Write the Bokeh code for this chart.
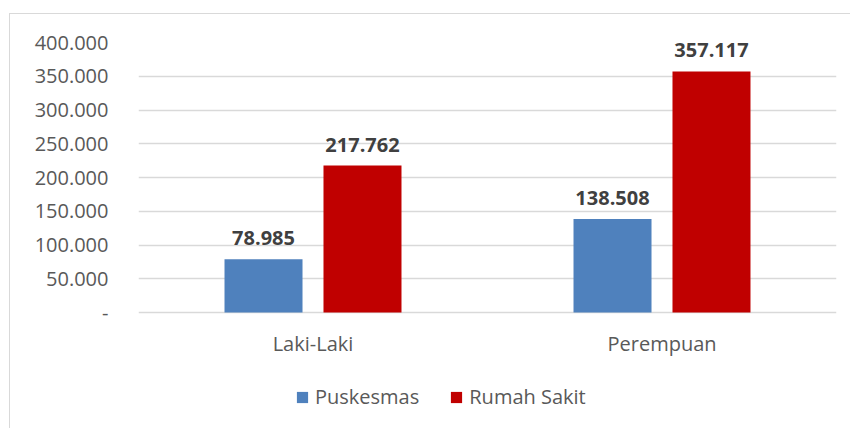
from bokeh.plotting import figure
from bokeh.models import ColumnDataSource, FactorRange, FixedTicker, LabelSet, Legend, LegendItem
from bokeh.core.properties import value
from bokeh.transform import dodge
from bokeh.embed import file_html
from bokeh.resources import INLINE

categories = ["Laki-Laki", "Perempuan"]
series = ["Puskesmas", "Rumah Sakit"]
puskesmas = [78985, 138508]
rumah_sakit = [217762, 357117]
tick_values = [0, 50000, 100000, 150000, 200000, 250000, 300000, 350000, 400000]
tick_labels = ["-", "50.000", "100.000", "150.000", "200.000", "250.000", "300.000", "350.000", "400.000"]
colors = ["#4F81BD", "#C00000"]

def fmt(v):
    return f"{v:,}".replace(",", ".")

src = ColumnDataSource(dict(
    cat=categories,
    pk=puskesmas,
    rs=rumah_sakit,
    pk_lbl=[fmt(v) for v in puskesmas],
    rs_lbl=[fmt(v) for v in rumah_sakit],
    zero=[0] * len(categories),
))

FONT = "Open Sans"
TXT = "#595959"

# layout in pixels: value axis spans 270 px from 400.000 down to 0,
# the frame continues 116 px below zero to hold category labels and legend
Y_MAX = tick_values[-1]
y_start = -Y_MAX * 116 / 270

p = figure(x_range=FactorRange(*categories, range_padding=0), y_range=(y_start, Y_MAX),
           width=850, height=428, output_backend="svg", toolbar_location=None,
           min_border_left=138, min_border_right=14, min_border_top=42, min_border_bottom=0,
           x_axis_location=None)
p.outline_line_color = None
p.background_fill_color = "white"
p.border_fill_alpha = 0
p.styles = {
    "background": "linear-gradient(#d9d9d9,#d9d9d9) 9px 13px / 1px 100% no-repeat, "
                  "linear-gradient(#d9d9d9,#d9d9d9) 9px 13px / 100% 1px no-repeat, white",
}

bw = 0.2235
off = 0.1418
r1 = p.vbar(x=dodge("cat", -off, range=p.x_range), top="pk", width=bw, source=src,
            fill_color=colors[0], line_color=None)
r2 = p.vbar(x=dodge("cat", off, range=p.x_range), top="rs", width=bw, source=src,
            fill_color=colors[1], line_color=None)

for col, lbl, o in (("pk", "pk_lbl", -off), ("rs", "rs_lbl", off)):
    p.add_layout(LabelSet(x=dodge("cat", o, range=p.x_range), y=col, text=lbl, source=src,
                          text_align="center", text_baseline="bottom", y_offset=14,
                          text_font=value(FONT), text_font_style="bold", text_font_size="20px",
                          text_color="#404040"))

# category labels under the zero line
p.add_layout(LabelSet(x="cat", y="zero", text="cat", source=src,
                      text_align="center", text_baseline="middle", y_offset=-31,
                      text_font=value(FONT), text_font_size="20px", text_color=TXT))

p.xgrid.grid_line_color = None
p.ygrid.grid_line_color = "#d9d9d9"
p.ygrid.grid_line_width = 1.5
p.yaxis.ticker = FixedTicker(ticks=tick_values)
p.yaxis.major_label_overrides = {v: l for v, l in zip(tick_values, tick_labels)}
p.yaxis.axis_line_color = None
p.yaxis.major_tick_line_color = None
p.yaxis.minor_tick_line_color = None
p.yaxis.major_label_text_font = FONT
p.yaxis.major_label_text_font_size = "20px"
p.yaxis.major_label_text_color = TXT
p.yaxis.major_label_standoff = 24

legend = Legend(items=[LegendItem(label=series[0], renderers=[r1]),
                       LegendItem(label=series[1], renderers=[r2])],
                orientation="horizontal", location=(157, 18),
                label_text_font=FONT, label_text_font_size="20px", label_text_color=TXT,
                glyph_width=14, glyph_height=14, label_standoff=6, spacing=30,
                border_line_color=None, background_fill_alpha=0, padding=0, margin=0)
p.add_layout(legend)

open("out.html", "w").write(file_html(p, INLINE))
